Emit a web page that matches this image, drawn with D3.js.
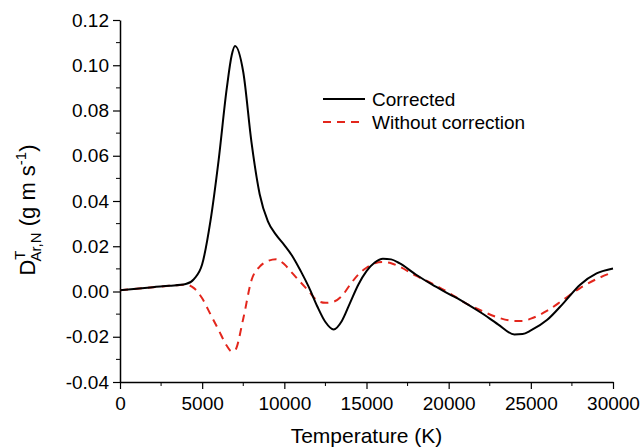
<!DOCTYPE html>
<html>
<head>
<meta charset="utf-8">
<script src="https://cdn.jsdelivr.net/npm/d3@7"></script>
<style>
  body { margin: 0; background: #fff; }
  text { font-family: "Liberation Sans", Arial, sans-serif; fill: #000; }
</style>
</head>
<body>
<div id="chart"></div>
<script>
// temperature grid (K)
const temps = [0, 1000, 2000, 3000, 4000, 4500, 5000, 5500, 6000, 6500, 6800, 7000, 7500, 8000, 8500, 9000, 9500,
  10000, 10500, 11000, 11500, 12000, 12500, 13000, 13500, 14000, 14500, 15000, 15500, 16000, 16500, 17000,
  18000, 19000, 20000, 21000, 22000, 23000, 24000, 24500, 25000, 26000, 27000, 28000, 29000, 30000];

const corrected = [0.0005, 0.0012, 0.0019, 0.0025, 0.0033, 0.0055, 0.012, 0.031, 0.058, 0.090, 0.1045, 0.1085,
  0.097, 0.066, 0.043, 0.031, 0.025, 0.0205, 0.0155, 0.009, 0.0018, -0.0065, -0.0135, -0.0168, -0.013, -0.005,
  0.003, 0.009, 0.0128, 0.0145, 0.0142, 0.0125, 0.0075, 0.003, -0.001, -0.005, -0.0095, -0.0145, -0.019, -0.0188,
  -0.0172, -0.0125, -0.005, 0.003, 0.008, 0.0102];

const withoutCorrection = [0.0005, 0.0012, 0.0019, 0.0025, 0.003, 0.0015, -0.003, -0.010, -0.017, -0.024, -0.0265,
  -0.026, -0.012, 0.005, 0.011, 0.0135, 0.0143, 0.012, 0.008, 0.004, 0.0, -0.004, -0.005, -0.0045, -0.002, 0.003,
  0.0075, 0.0105, 0.0125, 0.013, 0.0125, 0.011, 0.007, 0.0035, -0.0005, -0.005, -0.0085, -0.0115, -0.013, -0.013,
  -0.012, -0.0085, -0.0035, 0.0015, 0.0055, 0.0085];

const xTicks = [0, 5000, 10000, 15000, 20000, 25000, 30000];
const xMinor = [2500, 7500, 12500, 17500, 22500, 27500];
const yTicks = [-0.04, -0.02, 0.00, 0.02, 0.04, 0.06, 0.08, 0.10, 0.12];
const yMinor = [-0.03, -0.01, 0.01, 0.03, 0.05, 0.07, 0.09, 0.11];

const legendNames = ['Corrected', 'Without correction'];

const width = 640;
const height = 447;
const margin = { top: 20, right: 27, bottom: 65, left: 120 };

const svg = d3.select('#chart')
  .append('svg')
  .attr('width', width)
  .attr('height', height);

const x = d3.scaleLinear().domain([0, 30000]).range([margin.left, width - margin.right]);
const y = d3.scaleLinear().domain([-0.04, 0.12]).range([height - margin.bottom, margin.top]);

// axes
const xAxis = svg.append('g')
  .attr('transform', `translate(0, ${y(-0.04)})`)
  .call(d3.axisBottom(x).tickValues(xTicks).tickSize(7).tickSizeOuter(0).tickFormat(d3.format('d')));
xAxis.append('g').selectAll('line')
  .data(xMinor).enter().append('line')
  .attr('x1', d => x(d)).attr('x2', d => x(d))
  .attr('y1', 0).attr('y2', 4)
  .attr('stroke', '#000');

const yAxis = svg.append('g')
  .attr('transform', `translate(${x(0)}, 0)`)
  .call(d3.axisLeft(y).tickValues(yTicks).tickSize(7).tickSizeOuter(0).tickFormat(d => d.toFixed(2)));
yAxis.append('g').selectAll('line')
  .data(yMinor).enter().append('line')
  .attr('y1', d => y(d)).attr('y2', d => y(d))
  .attr('x1', 0).attr('x2', -4)
  .attr('stroke', '#000');

svg.selectAll('.domain').attr('stroke', '#000').attr('stroke-width', 1.5);
svg.selectAll('.tick line').attr('stroke', '#000').attr('stroke-width', 1.2);
svg.selectAll('.tick text').style('font-size', '19px').style('font-family', '"Liberation Sans", Arial, sans-serif');
xAxis.selectAll('.tick text').attr('dy', '0.95em').attr('y', 10);
yAxis.selectAll('.tick text').attr('x', -11);

// axis titles
svg.append('text')
  .attr('x', (x(0) + x(30000)) / 2)
  .attr('y', 443)
  .attr('text-anchor', 'middle')
  .style('font-size', '21px')
  .text('Temperature (K)');

const yTitle = svg.append('text')
  .attr('transform', 'translate(35, 210) rotate(-90)')
  .attr('text-anchor', 'middle')
  .style('font-size', '22px');
yTitle.append('tspan').text('D');
yTitle.append('tspan').attr('dy', -10).style('font-size', '15px').text('T');
yTitle.append('tspan').attr('dy', 16).attr('dx', -10).style('font-size', '15px').text('Ar,N');
yTitle.append('tspan').attr('dy', -6).text(' (g m s');
yTitle.append('tspan').attr('dy', -9).style('font-size', '15px').text('-1');
yTitle.append('tspan').attr('dy', 9).text(')');

// lines
const line = d3.line()
  .x((d, i) => x(temps[i]))
  .y(d => y(d))
  .curve(d3.curveMonotoneX);

svg.append('path')
  .datum(withoutCorrection)
  .attr('d', line)
  .attr('fill', 'none')
  .attr('stroke', '#e3261c')
  .attr('stroke-width', 2)
  .attr('stroke-dasharray', '8,6');

svg.append('path')
  .datum(corrected)
  .attr('d', line)
  .attr('fill', 'none')
  .attr('stroke', '#000')
  .attr('stroke-width', 2);

// legend
const legend = svg.append('g').attr('transform', 'translate(323, 99)');
legendNames.forEach((name, i) => {
  legend.append('line')
    .attr('x1', 0).attr('x2', 42)
    .attr('y1', i * 23).attr('y2', i * 23)
    .attr('stroke', i === 0 ? '#000' : '#e3261c')
    .attr('stroke-width', 2)
    .attr('stroke-dasharray', i === 0 ? null : '8,6');
  legend.append('text')
    .attr('x', 49)
    .attr('y', i * 23 + 7)
    .style('font-size', '19px')
    .text(name);
});
</script>
</body>
</html>
